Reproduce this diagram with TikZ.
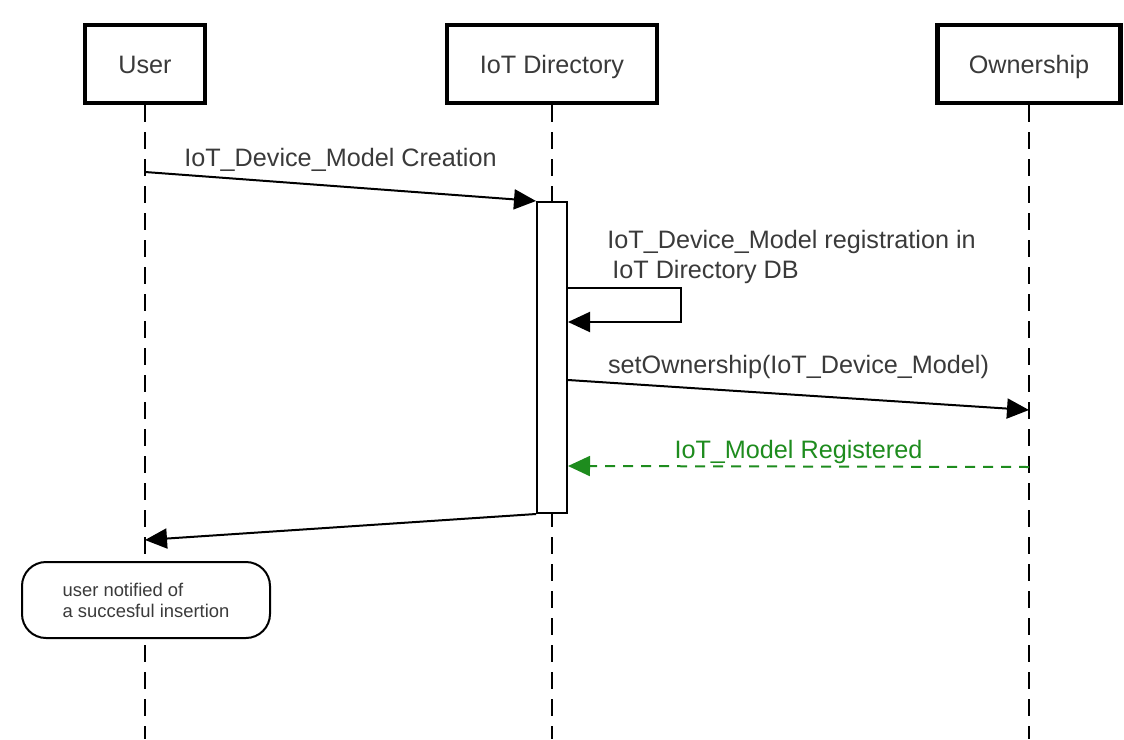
\documentclass[tikz,border=0pt]{standalone}
\usepackage{fontspec}
\setmainfont{Liberation Sans}
\usepackage{xcolor}
\usepackage{tikz}
\usetikzlibrary{arrows.meta,positioning,backgrounds,calc}

\definecolor{txtgray}{HTML}{3A3A3A}
\definecolor{okgreen}{HTML}{1E8C1E}

\begin{document}
\begin{tikzpicture}[
  x=0.5pt,y=-0.5pt,
  font=\fontsize{12.6}{15}\selectfont,
  actor/.style={rectangle,draw=black,line width=2.4pt,fill=white,
                text=txtgray,minimum height=39pt,inner sep=0pt,
                text height=1.2em,text depth=0.25em},
  actbar/.style={rectangle,draw=black,line width=1pt,fill=white,
                 minimum width=15pt,minimum height=155.5pt,inner sep=0pt},
  note/.style={rectangle,rounded corners=12pt,draw=black,line width=1pt,fill=white,
               minimum width=124pt,minimum height=38pt,align=left,text=txtgray,
               font=\fontsize{9.2}{10.5}\selectfont},
  lifeline/.style={line width=1.1pt,dash pattern=on 8.5pt off 5pt},
  msg/.style={-{Triangle[length=11pt,width=10pt]},line width=1pt},
  reply/.style={-{Triangle[length=11pt,width=10pt]},line width=1pt,draw=okgreen,
                dash pattern=on 5pt off 4pt},
  msglbl/.style={text=txtgray,inner sep=1pt}
]
\useasboundingbox (0,0) rectangle (1124,739);

% ===================== participants =====================
\node[actor,minimum width=60pt] (user) at (145,64) {User};
\node[actor,minimum width=105pt] (dir) at (552,64) {IoT Directory};
\node[actor,minimum width=91.5pt] (own) at (1029,64) {Ownership};

% activation bar on the IoT Directory lifeline
\node[actbar] (act) at (552,357.5) {};

% note under the user
\node[note] (notified) at (146,600) {user notified of\\a succesful insertion};

% ===================== lifelines =====================
\coordinate (bottom) at (0,739);
\begin{scope}[on background layer]
  \draw[lifeline] (user.south) -- (user.south |- bottom);
  \draw[lifeline] (dir.south) -- (dir.south |- bottom);
  \draw[lifeline] (own.south) -- (own.south |- bottom);
\end{scope}

% ===================== messages =====================
% user -> directory: creation request
\coordinate (u1) at (145,172);
\draw[msg] (u1) -- node[msglbl,midway,above=6pt] {IoT\_Device\_Model Creation} (act.north west);
% self call: store in DB
\coordinate (s1) at ($(act.north east)+(0,87)$);
\coordinate (s2) at ($(act.north east)+(0,121)$);
\draw[msg] (s1) -- ++(113,0) |- (s2);
\node[msglbl,align=left,anchor=west] (reglbl) at (605,257)
  {IoT\_Device\_Model registration in\\\hspace{2.5pt}IoT Directory DB};
% directory -> ownership
\coordinate (d1) at ($(act.north east)+(0,179)$);
\coordinate (o1) at (own.south |- 0,410);
\draw[msg] (d1) -- node[msglbl,midway,above=6.5pt] {setOwnership(IoT\_Device\_Model)} (o1);
% ownership -> directory (reply)
\coordinate (o2) at (own.south |- 0,467);
\coordinate (d2) at ($(act.north east)+(0,265)$);
\draw[reply] (o2) -- node[msglbl,text=okgreen,midway,above=0pt] {IoT\_Model Registered} (d2);
% directory -> user: notify
\coordinate (u2) at (user.south |- 0,540);
\draw[msg] (act.south west) -- (u2);

\end{tikzpicture}
\end{document}
